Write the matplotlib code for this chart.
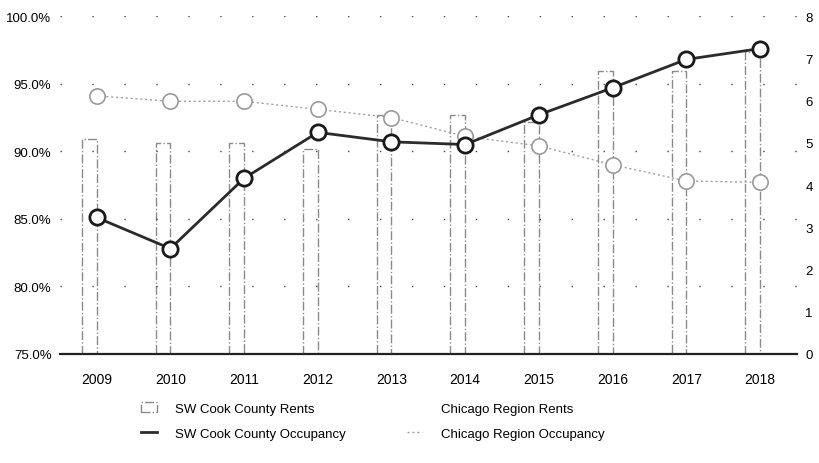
import matplotlib
matplotlib.use("Agg")
import matplotlib.pyplot as plt
import numpy as np

plt.rcParams["font.family"] = ["Liberation Sans", "DejaVu Sans"]

years = [2009, 2010, 2011, 2012, 2013, 2014, 2015, 2016, 2017, 2018]

# rents on the right axis (0-8), occupancy on the left axis (%)
sw_rents = [5.1, 5.0, 5.0, 4.85, 5.65, 5.65, 5.5, 6.7, 6.7, 7.15]
chi_rents = [5.1, 5.0, 4.9, 5.2, 5.0, 4.9, 5.4, 6.2, 6.9, 7.2]
sw_occ = [85.1, 82.8, 88.0, 91.4, 90.7, 90.5, 92.7, 94.7, 96.8, 97.6]
chi_occ = [94.1, 93.7, 93.7, 93.1, 92.5, 91.1, 90.4, 89.0, 87.8, 87.7]

left_ticks = [75, 80, 85, 90, 95, 100]
right_ticks = [0, 1, 2, 3, 4, 5, 6, 7, 8]

fig = plt.figure(figsize=(8.19, 4.64), dpi=100)
ax = fig.add_axes([0.073, 0.235, 0.9, 0.728])
ax2 = ax.twinx()

x = np.array(years)
bar_w = 0.2

# bars live on the right-hand axis, behind the occupancy lines
ax2.bar(x, sw_rents, width=-bar_w, align="edge", facecolor="white",
        edgecolor="#8a8a8a", linestyle="-.", linewidth=1.0,
        label="SW Cook County Rents", zorder=1)
ax2.bar(x, chi_rents, width=bar_w, align="edge", facecolor="white",
        edgecolor="white", linewidth=0,
        label="Chicago Region Rents", zorder=0)
ax2.set_ylim(0, 8)
ax2.set_yticks(right_ticks)
ax2.set_yticklabels([str(t) for t in right_ticks])

ax.set_zorder(ax2.get_zorder() + 1)
ax.patch.set_visible(False)

for t in left_ticks[1:]:
    ax.axhline(t, color="#444444", linewidth=1.0,
               linestyle=(0, (1, 22)), zorder=1)

ax.plot(x, chi_occ, color="#a0a0a0", linestyle=(0, (1.5, 2)), linewidth=1.0,
        marker="o", markersize=11, markerfacecolor="white",
        markeredgecolor="#9a9a9a", markeredgewidth=1.2,
        label="Chicago Region Occupancy", zorder=3)
ax.plot(x, sw_occ, color="#2b2b2b", linewidth=2.0,
        marker="o", markersize=11, markerfacecolor="white",
        markeredgecolor="#1a1a1a", markeredgewidth=2.0,
        label="SW Cook County Occupancy", zorder=4)

ax.set_ylim(75, 100)
ax.set_yticks(left_ticks)
ax.set_yticklabels([f"{t:.1f}%" for t in left_ticks])
ax.set_xlim(2008.5, 2018.5)
ax.set_xticks(years)
ax.set_xticklabels([str(y) for y in years])

for a in (ax, ax2):
    for s in a.spines.values():
        s.set_visible(False)
    a.tick_params(length=0, labelsize=9.5, colors="black")
ax.spines["bottom"].set_visible(True)
ax.spines["bottom"].set_color("#222222")
ax.spines["bottom"].set_linewidth(1.6)
ax.tick_params(axis="x", pad=13, labelsize=10)
ax.tick_params(axis="y", pad=6)
ax2.tick_params(axis="y", pad=6)

h2, l2 = ax2.get_legend_handles_labels()
h1, l1 = ax.get_legend_handles_labels()
handles = [h2[0], h1[1], h2[1], h1[0]]
labels = [l2[0], l1[1], l2[1], l1[0]]
leg = fig.legend(handles, labels, ncol=2, frameon=False,
                 loc="center", bbox_to_anchor=(0.455, 0.09),
                 fontsize=9.5, columnspacing=4.6, handlelength=1.2,
                 handletextpad=1.4, labelspacing=1.0)
for line in leg.get_lines():
    line.set_marker("")

fig.savefig("out.png", dpi=100)
